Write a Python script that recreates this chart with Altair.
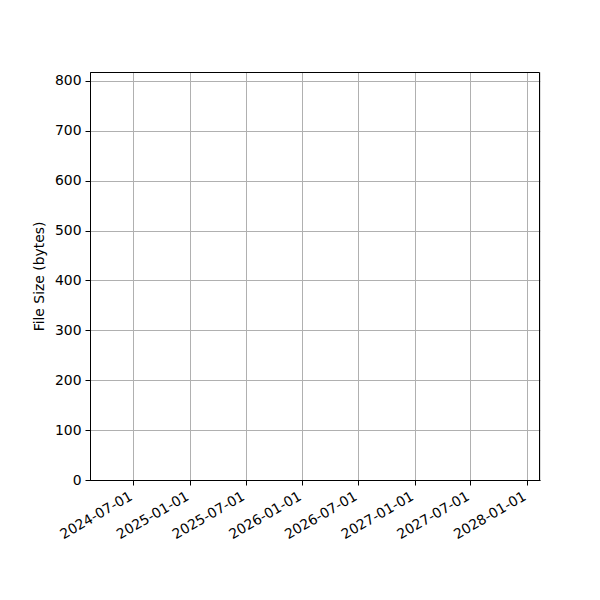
import altair as alt
import pandas as pd

# Data (the reference chart shows no data points)
dates = []
sizes = []

x_domain = ["2024-02-11", "2028-02-12"]
y_domain = [0, 818]
x_ticks = [(2024, 7), (2025, 1), (2025, 7), (2026, 1), (2026, 7), (2027, 1), (2027, 7), (2028, 1)]
y_ticks = [0, 100, 200, 300, 400, 500, 600, 700, 800]

df = pd.DataFrame({"date": pd.to_datetime(pd.Series(dates, dtype="object")), "size": pd.Series(sizes, dtype="float")})

FONT = "DejaVu Sans"
FS = 13.9
W, H = 450, 408

x_axis = alt.Axis(
    values=[alt.DateTime(year=y, month=m, date=1, utc=True) for y, m in x_ticks],
    labelExpr="utcFormat(datum.value, '%Y-%m-%d')",
    labelAngle=330,
    labelAlign="right",
    labelBaseline="top",
    labelPadding=4,
    labelOffset=-6,
    labelOverlap=False,
    labelBound=False,
    labelFlush=False,
    labelFont=FONT,
    labelFontSize=FS,
    labelColor="black",
    tickColor="black",
    tickSize=5,
    domainColor="black",
    grid=True,
    gridColor="#b0b0b0",
    gridWidth=1,
    title=None,
)
y_axis = alt.Axis(
    values=y_ticks,
    labelFont=FONT,
    labelFontSize=FS,
    labelColor="black",
    labelPadding=4,
    labelOverlap=False,
    labelFlush=False,
    tickColor="black",
    tickSize=5,
    domainColor="black",
    grid=True,
    gridColor="#b0b0b0",
    gridWidth=1,
    title="File Size (bytes)",
    titleFont=FONT,
    titleFontSize=FS,
    titleFontWeight="normal",
    titleColor="black",
    titlePadding=8,
)

lines = (
    alt.Chart(df)
    .mark_line(color="#1f77b4")
    .encode(
        x=alt.X("date:T", scale=alt.Scale(type="utc", domain=x_domain, nice=False), axis=x_axis),
        y=alt.Y("size:Q", scale=alt.Scale(domain=y_domain, nice=False, zero=False), axis=y_axis),
    )
)

frame = (
    alt.Chart(alt.Data(values=[{"f": 1}]))
    .mark_rect(fill=None, stroke="black", strokeWidth=1)
    .encode(x=alt.value(0.5), x2=alt.value(W - 0.5), y=alt.value(0.5), y2=alt.value(H + 0.5))
)

chart = (
    alt.layer(lines, frame)
    .properties(
        width=W,
        height=H,
        autosize=alt.AutoSizeParams(type="none"),
        padding={"left": 82, "top": 64, "right": 52, "bottom": 112},
    )
    .configure_view(stroke=None)
    .configure(background="white")
)

chart.save("out.html", embed_options={"renderer": "svg", "actions": False})
